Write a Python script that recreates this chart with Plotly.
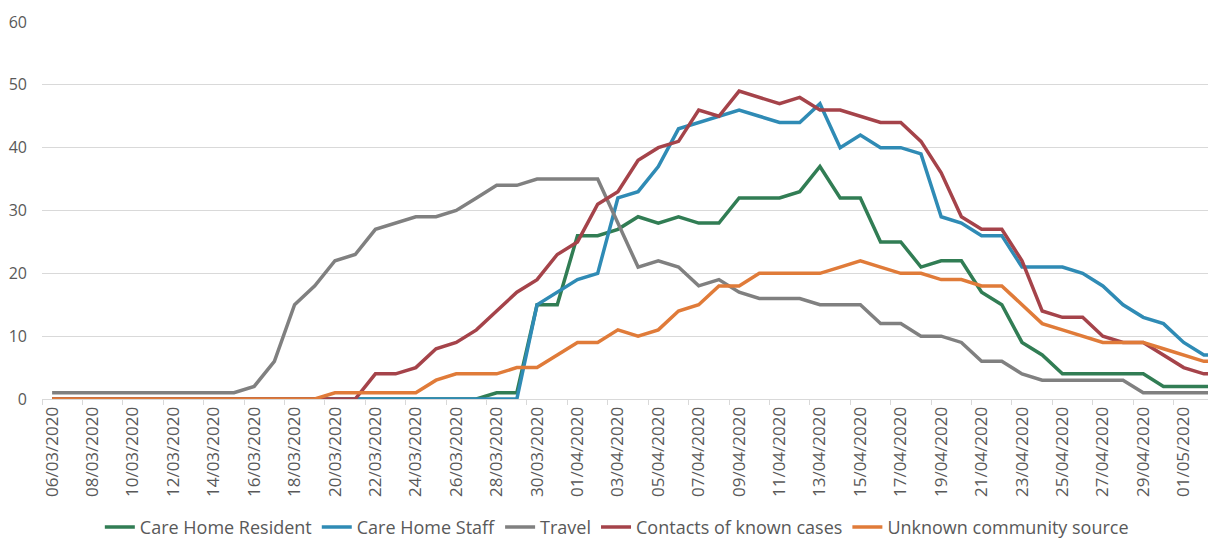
import plotly.graph_objects as go
import datetime as dt

start = dt.date(2020, 3, 6)
dates = [(start + dt.timedelta(days=i)).strftime("%d/%m/%Y") for i in range(59)]

care_home_resident = [0]*22 + [1, 1, 15, 15, 26, 26, 27, 29, 28, 29, 28, 28, 32, 32, 32, 33, 37, 32, 32,
                      25, 25, 21, 22, 22, 17, 15, 9, 7, 4, 4, 4, 4, 4, 2, 2, 2, 2]
care_home_staff = [0]*24 + [15, 17, 19, 20, 32, 33, 37, 43, 44, 45, 46, 45, 44, 44, 47, 40, 42, 40, 40, 39,
                   29, 28, 26, 26, 21, 21, 21, 20, 18, 15, 13, 12, 9, 7, 7]
travel = [1]*10 + [2, 6, 15, 18, 22, 23, 27, 28, 29, 29, 30, 32, 34, 34, 35, 35, 35, 35, 28, 21, 22, 21,
          18, 19, 17, 16, 16, 16, 15, 15, 15, 12, 12, 10, 10, 9, 6, 6, 4, 3, 3, 3, 3, 3, 1, 1, 1, 1, 1]
contacts = [0]*16 + [4, 4, 5, 8, 9, 11, 14, 17, 19, 23, 25, 31, 33, 38, 40, 41, 46, 45, 49, 48, 47, 48,
            46, 46, 45, 44, 44, 41, 36, 29, 27, 27, 22, 14, 13, 13, 10, 9, 9, 7, 5, 4, 4]
unknown = [0]*14 + [1, 1, 1, 1, 1, 3, 4, 4, 4, 5, 5, 7, 9, 9, 11, 10, 11, 14, 15, 18, 18, 20, 20, 20,
           20, 21, 22, 21, 20, 20, 19, 19, 18, 18, 15, 12, 11, 10, 9, 9, 9, 8, 7, 6, 6]

series = [
    ("Care Home Resident", care_home_resident, "#317d54"),
    ("Care Home Staff", care_home_staff, "#2f8bb5"),
    ("Travel", travel, "#808080"),
    ("Contacts of known cases", contacts, "#a5434a"),
    ("Unknown community source", unknown, "#e07b39"),
]

fig = go.Figure()
for name, vals, color in series:
    fig.add_trace(go.Scatter(x=dates, y=vals, name=name, mode="lines",
                             line=dict(color=color, width=3.5)))

fig.update_layout(
    width=1208, height=531,
    margin=dict(l=34, r=0, t=14, b=140),
    plot_bgcolor="white", paper_bgcolor="white",
    font=dict(family="Open Sans", color="#595959"),
    legend=dict(orientation="h", xref="container", yref="container",
                x=0.504, y=0.022, xanchor="center", yanchor="middle",
                font=dict(size=18, color="#595959"), itemwidth=30),
    showlegend=True,
)
fig.update_xaxes(type="category", range=[-0.5, 57.6], tickmode="linear", tick0=0, dtick=2,
                 tickson="boundaries", ticks="outside", ticklen=5, tickcolor="#d9d9d9",
                 tickangle=-90, tickfont=dict(size=17, color="#595959"),
                 showline=True, linecolor="#d9d9d9", linewidth=1, showgrid=False)
fig.update_yaxes(range=[0, 60], dtick=10, showgrid=True, gridcolor="#d9d9d9", gridwidth=1,
                 zeroline=False, showline=False, ticks="", ticklabelstandoff=14,
                 tickfont=dict(size=16, color="#595959"))

fig.write_html("out.html")
